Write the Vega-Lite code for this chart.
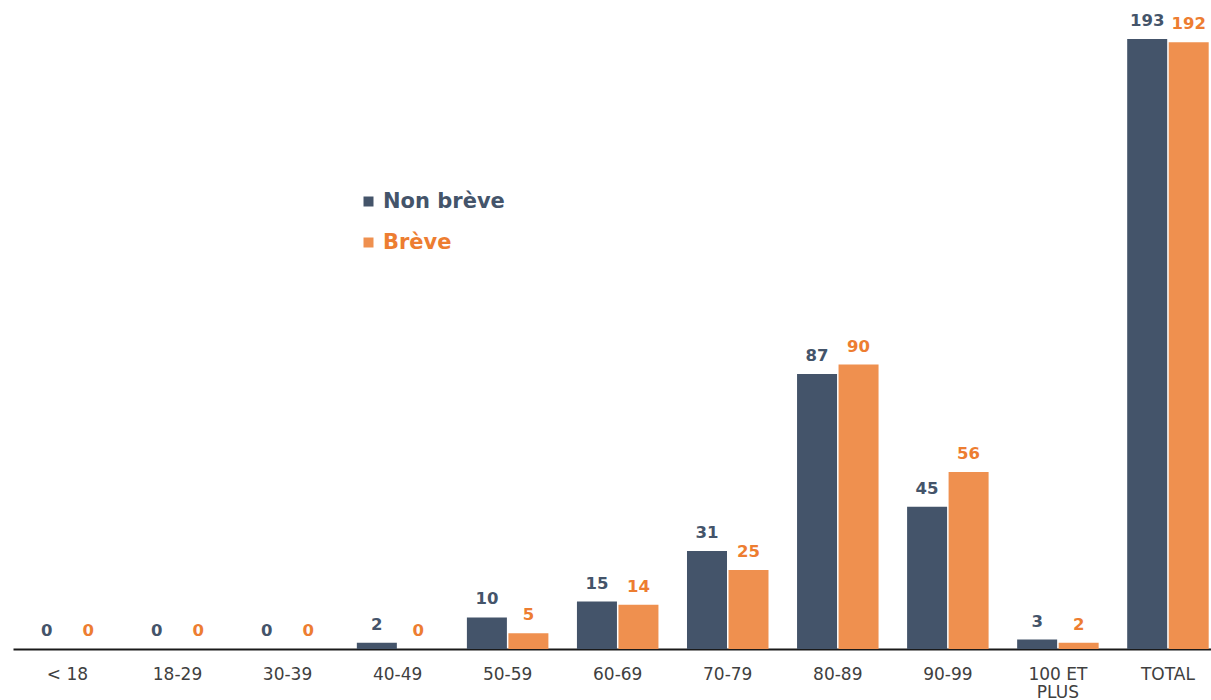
{
  "$schema": "https://vega.github.io/schema/vega-lite/v6.json",
  "autosize": {"type": "none"},
  "width": 1198,
  "height": 632,
  "padding": {"left": 13, "top": 17, "right": 0, "bottom": 51},
  "background": "white",
  "config": {
    "view": {"stroke": null},
    "font": "DejaVu Sans"
  },
  "data": {
    "values": [
      {"tranche": "< 18", "serie": "Non brève", "n": 0},
      {"tranche": "< 18", "serie": "Brève", "n": 0},
      {"tranche": "18-29", "serie": "Non brève", "n": 0},
      {"tranche": "18-29", "serie": "Brève", "n": 0},
      {"tranche": "30-39", "serie": "Non brève", "n": 0},
      {"tranche": "30-39", "serie": "Brève", "n": 0},
      {"tranche": "40-49", "serie": "Non brève", "n": 2},
      {"tranche": "40-49", "serie": "Brève", "n": 0},
      {"tranche": "50-59", "serie": "Non brève", "n": 10},
      {"tranche": "50-59", "serie": "Brève", "n": 5},
      {"tranche": "60-69", "serie": "Non brève", "n": 15},
      {"tranche": "60-69", "serie": "Brève", "n": 14},
      {"tranche": "70-79", "serie": "Non brève", "n": 31},
      {"tranche": "70-79", "serie": "Brève", "n": 25},
      {"tranche": "80-89", "serie": "Non brève", "n": 87},
      {"tranche": "80-89", "serie": "Brève", "n": 90},
      {"tranche": "90-99", "serie": "Non brève", "n": 45},
      {"tranche": "90-99", "serie": "Brève", "n": 56},
      {"tranche": "100 ET PLUS", "serie": "Non brève", "n": 3},
      {"tranche": "100 ET PLUS", "serie": "Brève", "n": 2},
      {"tranche": "TOTAL", "serie": "Non brève", "n": 193},
      {"tranche": "TOTAL", "serie": "Brève", "n": 192}
    ]
  },
  "encoding": {
    "x": {
      "field": "tranche",
      "type": "nominal",
      "sort": null,
      "scale": {"paddingInner": 0.2594, "paddingOuter": 0.0727, "align": 0.856},
      "axis": {
        "title": null,
        "labelAngle": 0,
        "ticks": false,
        "tickSize": 0,
        "labelPadding": 17,
        "labelFont": "DejaVu Sans",
        "labelFontSize": 17,
        "labelColor": "#404040",
        "labelLineHeight": 18,
        "labelBaseline": "top",
        "labelExpr": "datum.label == '100 ET PLUS' ? ['100 ET', 'PLUS'] : datum.label",
        "domainColor": "#1a1a1a",
        "domainWidth": 2
      }
    },
    "xOffset": {
      "field": "serie",
      "type": "nominal",
      "sort": ["Non brève", "Brève"],
      "scale": {"paddingInner": 0.036, "paddingOuter": 0}
    },
    "y": {
      "field": "n",
      "type": "quantitative",
      "scale": {"domain": [0, 200], "nice": false},
      "axis": null
    }
  },
  "layer": [
    {
      "mark": {"type": "bar"},
      "encoding": {
        "color": {
          "field": "serie",
          "type": "nominal",
          "sort": ["Non brève", "Brève"],
          "scale": {"domain": ["Non brève", "Brève"], "range": ["#44546a", "#ef904f"]},
          "legend": {
            "title": null,
            "orient": "none",
            "legendX": 345,
            "legendY": 174,
            "padding": 0,
            "symbolType": "square",
            "symbolSize": 100,
            "symbolStrokeWidth": 0,
            "labelFont": "DejaVu Sans",
            "labelFontSize": 21,
            "labelFontWeight": "bold",
            "labelOffset": 4,
            "rowPadding": 19,
            "labelLimit": 300,
            "encode": {
              "labels": {
                "update": {
                  "fill": {"signal": "datum.label == 'Brève' ? '#ed7d31' : '#44546a'"}
                }
              }
            }
          }
        }
      }
    },
    {
      "mark": {
        "type": "text",
        "baseline": "alphabetic",
        "align": "center",
        "dy": -13,
        "font": "DejaVu Sans",
        "fontSize": 16.5,
        "fontWeight": "bold"
      },
      "encoding": {
        "text": {"field": "n", "type": "quantitative"},
        "color": {
          "condition": {"test": "datum.serie == 'Brève'", "value": "#ed7d31"},
          "value": "#44546a"
        }
      }
    }
  ]
}
